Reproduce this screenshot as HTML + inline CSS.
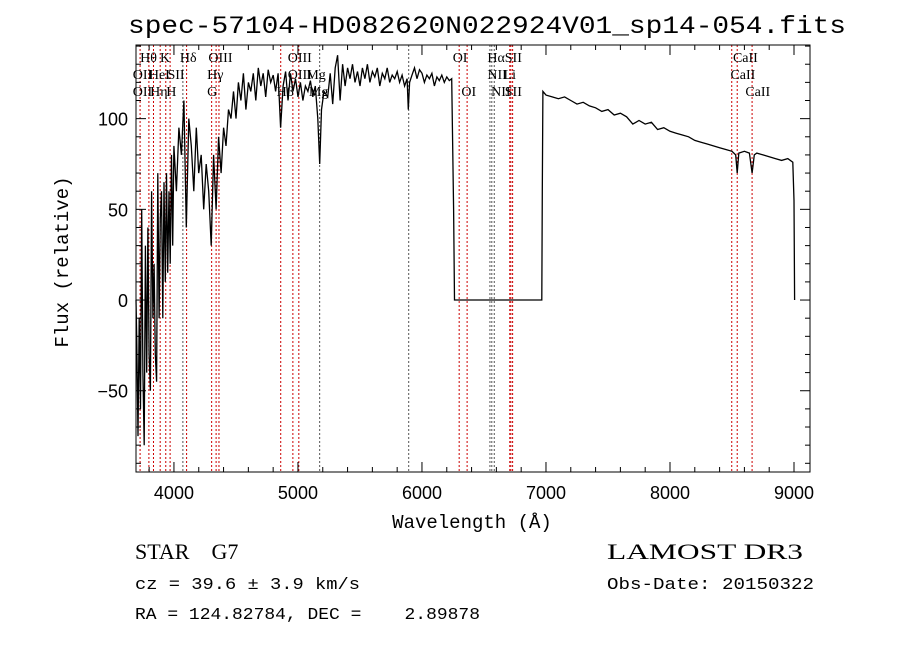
<!DOCTYPE html>
<html><head><meta charset="utf-8"><style>
html,body{margin:0;padding:0;background:#fff;}
svg{display:block;}
text{white-space:pre;}
</style></head><body>
<svg id="chart" width="900" height="649" viewBox="0 0 900 649" xmlns="http://www.w3.org/2000/svg" xml:space="preserve">
<rect width="900" height="649" fill="#fff"/>
<text x="128" y="33" font-family="Liberation Mono, monospace" font-size="25" textLength="718" lengthAdjust="spacingAndGlyphs">spec-57104-HD082620N022924V01_sp14-054.fits</text>
<g id="lines"></g>
<g id="labels" font-family="Liberation Serif, serif" font-size="14"></g>
<path id="spec" fill="none" stroke="#000" stroke-width="1.3"/>
<rect x="136" y="45" width="674" height="427" fill="none" stroke="#000" stroke-width="1"/>
<g id="ticks" stroke="#000" stroke-width="1"></g>
<g id="tlabels" font-family="Liberation Sans, sans-serif" font-size="18"></g>
<text x="472" y="528" text-anchor="middle" font-family="Liberation Mono, monospace" font-size="19">Wavelength (Å)</text>
<text transform="translate(68,262) rotate(-90)" text-anchor="middle" font-family="Liberation Mono, monospace" font-size="19">Flux (relative)</text>
<text x="135" y="559" font-family="Liberation Serif, serif" font-size="22">STAR    G7</text>
<text x="135" y="589" font-family="Liberation Mono, monospace" font-size="17" textLength="225" lengthAdjust="spacingAndGlyphs">cz = 39.6 ± 3.9 km/s</text>
<text x="135" y="619" font-family="Liberation Mono, monospace" font-size="17" textLength="345" lengthAdjust="spacingAndGlyphs">RA = 124.82784, DEC =    2.89878</text>
<text x="607" y="559" font-family="Liberation Serif, serif" font-size="22" textLength="196" lengthAdjust="spacingAndGlyphs">LAMOST DR3</text>
<text x="607" y="589" font-family="Liberation Mono, monospace" font-size="17" textLength="207" lengthAdjust="spacingAndGlyphs">Obs-Date: 20150322</text>
</svg>
<script>
const waves = [3690,3700,3710,3720,3730,3740,3750,3760,3770,3780,3790,3800,3810,3820,3830,3840,3850,3860,3870,3880,3890,3900,3910,3920,3930,3940,3950,3960,3970,3980,3990,4000,4020,4040,4060,4080,4100,4120,4140,4160,4180,4200,4220,4240,4260,4280,4300,4320,4340,4360,4380,4400,4420,4440,4460,4480,4500,4520,4540,4560,4580,4600,4620,4640,4660,4680,4700,4720,4740,4760,4780,4800,4820,4840,4860,4880,4900,4920,4940,4960,4980,5000,5020,5040,5060,5080,5100,5120,5140,5160,5175,5190,5210,5240,5260,5280,5300,5320,5340,5360,5380,5400,5420,5440,5460,5480,5500,5520,5540,5560,5580,5600,5620,5640,5660,5680,5700,5720,5740,5760,5780,5800,5820,5840,5860,5880,5890,5900,5920,5940,5960,5980,6000,6020,6040,6060,6080,6100,6120,6140,6160,6180,6200,6220,6240,6255,6262,6600,6966,6970,6975,7000,7050,7100,7150,7200,7250,7300,7350,7400,7450,7500,7550,7600,7650,7700,7750,7800,7850,7900,7950,8000,8050,8100,8150,8200,8250,8300,8350,8400,8450,8500,8530,8542,8555,8600,8640,8662,8680,8700,8750,8800,8850,8900,8950,8990,9000,9005];
const flux = [0,-20,-75,-10,-60,50,-40,-80,30,-40,40,-30,-50,60,-10,20,-30,-45,70,-10,45,60,-10,65,10,70,15,60,20,80,30,85,60,95,80,110,40,100,85,60,95,70,80,50,75,60,30,80,50,90,70,95,85,105,100,115,100,120,110,125,105,120,115,125,110,128,118,125,112,127,120,124,115,125,95,118,126,110,125,115,122,112,120,110,118,115,121,112,118,100,75,105,115,112,125,108,128,135,110,130,118,128,122,130,120,126,118,128,122,130,120,126,123,128,118,125,122,128,120,124,122,126,120,124,118,122,105,120,124,128,122,127,125,120,124,122,125,118,123,121,124,120,123,121,122,50,0,0,0,60,115,113,112,111,112,110,108,109,107,106,104,105,102,103,101,97,99,97,98,94,95,93,92,91,90,88,87,86,85,84,83,82,80,70,81,82,81,70,80,81,80,79,78,77,78,76,55,0];
const lineWaves = [3727,3798,3835,3889,3934,3969,4072,4102,4304,4340,4363,4861,4959,5007,5175,5893,6300,6364,6548,6563,6583,6708,6717,6731,8498,8542,8662];
const lineBlack = [0,0,0,0,0,0,1,0,0,0,0,0,0,0,1,1,0,0,1,1,1,0,0,0,0,0,0];
const labelText = ["Hθ","K","Hδ","OIII","OIII","OI","Hα","SII","CaII","OII","HeI","SII","Hγ","OIII","Mg","NII","Li","CaII","OII","Hη","H","G","Hβ","Mg","OI","NII","SII","CaII"];
const labelWave = [3760,3920,4080,4310,4950,6280,6560,6700,8540,3700,3830,3980,4300,4950,5100,6560,6690,8520,3700,3840,3970,4300,4860,5120,6350,6590,6700,8640];
const labelRow = [0,0,0,0,0,0,0,0,0,1,1,1,1,1,1,1,1,1,2,2,2,2,2,2,2,2,2,2];
const xTicks = [4000,5000,6000,7000,8000,9000];
const yTicks = [-50,0,50,100];
const X0=136,X1=810,Y0=45,Y1=472, WMIN=3694, WMAX=9129, FMIN=-94.8, FMAX=140.6;
const sx = w => X0 + (w-WMIN)/(WMAX-WMIN)*(X1-X0);
const sy = f => Y1 - (f-FMIN)/(FMAX-FMIN)*(Y1-Y0);
const NS='http://www.w3.org/2000/svg';
function mk(tag, parent, attrs){const e=document.createElementNS(NS,tag);for(const k in attrs)e.setAttribute(k,attrs[k]);parent.appendChild(e);return e;}
let d='';
for(let i=0;i<waves.length;i++){const x=sx(Math.min(Math.max(waves[i],WMIN),WMAX)),y=sy(Math.max(flux[i],FMIN));d+=(i?'L':'M')+x.toFixed(1)+','+y.toFixed(1);}
document.getElementById('spec').setAttribute('d',d);
const lg=document.getElementById('lines');
lineWaves.forEach((w,i)=>{const x=sx(w);const l=mk('line',lg,{x1:x,x2:x,y1:Y0,y2:Y1,stroke:lineBlack[i]?'#555':'#c00','stroke-width':1,'stroke-dasharray':'2,2'});

});
const lb=document.getElementById('labels');
labelText.forEach((t,i)=>{const e=mk('text',lb,{x:sx(labelWave[i])-4,y:62+labelRow[i]*17});e.textContent=t;

});
const tg=document.getElementById('ticks'), tl=document.getElementById('tlabels');
for(let w=3800;w<=9100;w+=200){const x=sx(w);const maj=(w%1000===0);const L=maj?10:5;
mk('line',tg,{x1:x,x2:x,y1:Y1,y2:Y1-L});mk('line',tg,{x1:x,x2:x,y1:Y0,y2:Y0+L});}
xTicks.forEach(w=>{const e=mk('text',tl,{x:sx(w),y:Y1+27,'text-anchor':'middle'});e.textContent=w;

});
for(let f=-90;f<=140;f+=10){const y=sy(f);const maj=(f%50===0);const L=maj?10:5;
mk('line',tg,{x1:X0,x2:X0+L,y1:y,y2:y});mk('line',tg,{x1:X1,x2:X1-L,y1:y,y2:y});}
yTicks.forEach(f=>{const e=mk('text',tl,{x:X0-8,y:sy(f)+7,'text-anchor':'end'});e.textContent=(f<0?'\u2212'+(-f):f);

});
</script>
</body></html>
